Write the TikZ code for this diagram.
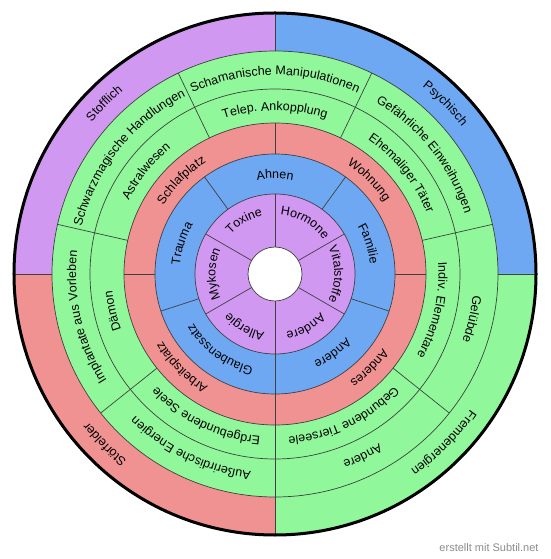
\documentclass[tikz,border=0pt]{standalone}
\usepackage{fontspec}
\setmainfont{Liberation Sans}
\definecolor{ringpurple}{RGB}{209,152,242}
\definecolor{ringblue}{RGB}{110,168,242}
\definecolor{ringred}{RGB}{240,146,146}
\definecolor{ringgreen}{RGB}{144,248,154}
\usetikzlibrary{decorations.text}
\newcommand{\labelfont}{\fontsize{12.5}{14}\selectfont}
% label on an arc: centre angle, half width, baseline radius, text
\newcommand{\ringlabel}[4]{%
  \path[decorate, decoration={text along path, text align=center, text={|\labelfont|#4}}]
    ({#1+#2}:#3) arc[start angle={#1+#2}, end angle={#1-#2}, radius=#3];}

\begin{document}
\begin{tikzpicture}[x=1pt, y=1pt, sep/.style={draw=black!75, line width=0.7pt}]
    \fill[white] (-275,-285) rectangle (275,274);
    % outer quadrants
    \fill[ringblue] (0,0) -- (0:262) arc[start angle=0, end angle=90, radius=262] -- cycle;
    \fill[ringpurple] (0,0) -- (90:262) arc[start angle=90, end angle=180, radius=262] -- cycle;
    \fill[ringred] (0,0) -- (180:262) arc[start angle=180, end angle=270, radius=262] -- cycle;
    \fill[ringgreen] (0,0) -- (270:262) arc[start angle=270, end angle=360, radius=262] -- cycle;
    \fill[ringgreen] (0,0) circle (223);
    \fill[ringred] (0,0) circle (151);
    \fill[ringblue] (0,0) circle (120);
    \fill[ringpurple] (0,0) circle (80);
    \fill[white] (0,0) circle (27);
    % ring borders and sector lines
    \foreach \r in {27,80,120,151,185,223}
        \draw[sep] (0,0) circle (\r);
    \foreach \a in {30,90,...,330}
        \draw[sep] (\a:27) -- (\a:80);
    \foreach \a in {54,126,...,342}
        \draw[sep] (\a:80) -- (\a:120);
    \foreach \a in {0,90,180,270}
        \draw[sep] (\a:120) -- (\a:151);
    \foreach \k in {0,...,6}
        \draw[sep] ({90/7+\k*360/7}:151) -- ({90/7+\k*360/7}:223);
    \foreach \a in {0,90,180,270}
        \draw[sep] (\a:223) -- (\a:262);
    \draw[line width=3pt] (0,0) circle (261);
    % inner ring
    \ringlabel{60}{30}{59.5}{Hormone}
    \ringlabel{120}{30}{59.5}{Toxine}
    \ringlabel{180}{30}{59.5}{Mykosen}
    \ringlabel{240}{30}{59.5}{Allergie}
    \ringlabel{300}{30}{59.5}{Andere}
    \ringlabel{0}{30}{59.5}{Vitalstoffe}
    % second ring
    \ringlabel{90}{36}{95.5}{Ahnen}
    \ringlabel{162}{36}{95.5}{Trauma}
    \ringlabel{234}{36}{95.5}{Glaubenssatz}
    \ringlabel{306}{36}{95.5}{Andere}
    \ringlabel{18}{36}{95.5}{Familie}
    % third ring
    \ringlabel{135}{45}{131}{Schlafplatz}
    \ringlabel{45}{45}{131}{Wohnung}
    \ringlabel{315}{45}{131}{Anderes}
    \ringlabel{225}{45}{131}{Arbeitsplatz}
    % fourth ring
    \ringlabel{90}{25.7}{163.5}{Telep. Ankopplung}
    \ringlabel{141.43}{25.7}{163.5}{Astralwesen}
    \ringlabel{192.86}{25.7}{163.5}{Dämon}
    \ringlabel{244.29}{25.7}{163.5}{Erdgebundene Seele}
    \ringlabel{295.71}{25.7}{163.5}{Gebundene Tierseele}
    \ringlabel{347.14}{25.7}{163.5}{Indiv. Elementare}
    \ringlabel{38.57}{25.7}{163.5}{Ehemaliger Täter}
    % fifth ring
    \ringlabel{90}{25.7}{199}{Schamanische Manipulationen}
    \ringlabel{141.43}{25.7}{199}{Schwarzmagische Handlungen}
    \ringlabel{192.86}{25.7}{199}{Implantate aus Vorleben}
    \ringlabel{244.29}{25.7}{199}{Außerirdische Energien}
    \ringlabel{295.71}{25.7}{199}{Andere}
    \ringlabel{347.14}{25.7}{199}{Gelübde}
    \ringlabel{38.57}{25.7}{199}{Gefährliche Einweihungen}
    % outer ring
    \ringlabel{135}{45}{238}{Stofflich}
    \ringlabel{45}{45}{238}{Psychisch}
    \ringlabel{225}{45}{238}{Störfelder}
    \ringlabel{315}{45}{238}{Fremdenergien}
    \node[text=black!45, font=\fontsize{11}{13}\selectfont] (credit) at (214,-274) {erstellt mit Subtil.net};
\end{tikzpicture}
\end{document}
